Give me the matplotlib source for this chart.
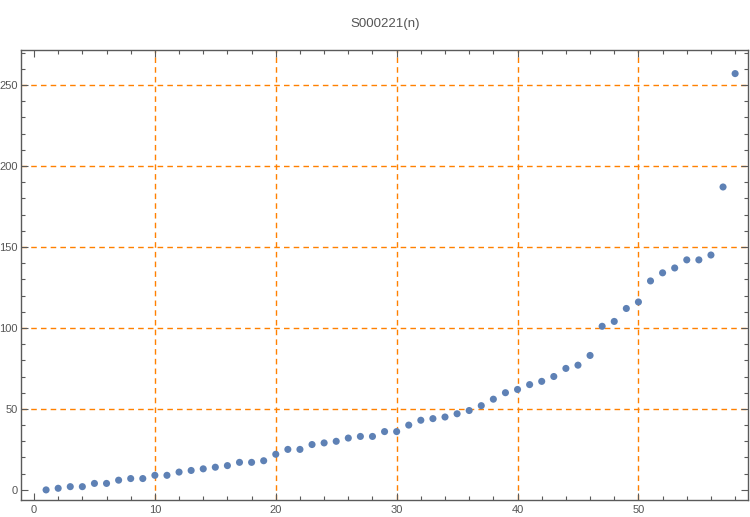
import matplotlib
matplotlib.use("Agg")
import matplotlib.pyplot as plt
from matplotlib.ticker import MultipleLocator

# S000221(n) values
n_values = list(range(1, 59))
s_values = [0, 1, 2, 2, 4, 4, 6, 7, 7, 9,
            9, 11, 12, 13, 14, 15, 17, 17, 18, 22,
            25, 25, 28, 29, 30, 32, 33, 33, 36, 36,
            40, 43, 44, 45, 47, 49, 52, 56, 60, 62,
            65, 67, 70, 75, 77, 83, 101, 104, 112, 116,
            129, 134, 137, 142, 142, 145, 187, 257]

x_grid = [10, 20, 30, 40, 50]
y_grid = [50, 100, 150, 200, 250]

plt.rcParams['font.family'] = ['Liberation Sans', 'DejaVu Sans']

fig = plt.figure(figsize=(7.5, 5.17), dpi=100)
ax = fig.add_axes([0.0276, 0.033, 0.9703, 0.8704])

point_color = '#5E81B5'
grid_color = '#FF8000'
frame_color = '#5a5a5a'
text_color = '#555555'

# grid lines (Mathematica style orange dashed)
for gx in x_grid:
    ax.axvline(gx, color=grid_color, lw=1.0, ls=(0, (4, 3)), zorder=1)
for gy in y_grid:
    ax.axhline(gy, color=grid_color, lw=1.0, ls=(0, (4, 3)), zorder=1)

ax.scatter(n_values, s_values, s=26, color=point_color, edgecolors='none', zorder=3)

ax.set_xlim(-1.1, 59.1)
ax.set_ylim(-6.2, 271.6)

ax.xaxis.set_major_locator(MultipleLocator(10))
ax.xaxis.set_minor_locator(MultipleLocator(2))
ax.yaxis.set_major_locator(MultipleLocator(50))
ax.yaxis.set_minor_locator(MultipleLocator(10))

ax.tick_params(which='both', direction='in', top=True, right=True,
               color=frame_color, width=0.8)
ax.tick_params(which='major', length=5)
ax.tick_params(which='minor', length=3)
ax.tick_params(axis='both', which='major', labelsize=8, labelcolor=text_color)
ax.tick_params(axis='y', which='major', pad=2)
ax.tick_params(axis='x', which='major', pad=4)

for side in ax.spines.values():
    side.set_color(frame_color)
    side.set_linewidth(1.0)

fig.text(0.513, 0.954, 'S000221(n)', ha='center', va='center',
         fontsize=9.5, color=text_color)

fig.savefig('out.png', dpi=100)
